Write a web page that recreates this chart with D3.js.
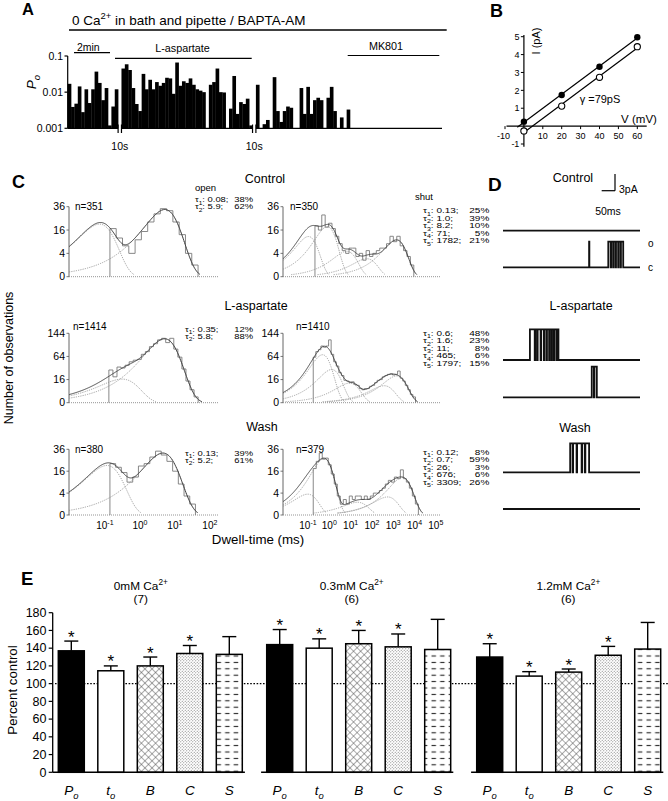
<!DOCTYPE html>
<html><head><meta charset="utf-8">
<script src="https://cdn.jsdelivr.net/npm/d3@7"></script>
<style>
body{margin:0;background:#fff;}
svg{font-family:"Liberation Sans",Arial,Helvetica,sans-serif;}
</style></head><body>
<svg id="fig" width="668" height="801"></svg>
<script>
// ================= DATA =================
// Panel A : open probability per bin (three recording segments)
const poSeg1 = [0.017,0.0039,0.0048,0.0144,0.0028,0.012,0.005,0.012,0.037,0.018,0.006,0.013,0.0012,0.004,0.012];
const poSeg2 = [0.045,0.059,0.041,0.013,0.0047,0.003,0.032,0.012,0.022,0.012,0.019,0.015,0.018,0.025,0.024,0.009,0.066,0.015,0.02,0.018,0.024,0.016,0.012,0.011,0.010,0.001,0.016,0.019,0.045,0.01,0.0098,0,0.0035,0.028,0.0025,0.0053,0.0047,0.0066,0.0012];
const poSeg3 = [0.016,0,0.0013,0.0017,0,0.026,0.003,0.0015,0.003,0.004,0.0037,0,0,0.013,0.0025,0.014,0.0025,0.006,0.007,0.006,0,0.007,0.014,0.003,0,0.002,0,0.0033];
const poTicks = [0.001,0.01,0.1];
const poTickLabels = ["0.001","0.01","0.1"];

// Panel B : I-V relation
const ivVoltage = [0,20,40,60];
const ivFilled = [0.25,1.74,3.32,4.97];
const ivOpen = [-0.27,1.12,2.73,4.44];
const ivXTicks = [-10,10,20,30,40,50,60];
const ivYTicks = [-1,1,2,3,4,5];

// Panel C : dwell-time histograms
const rowNames = ["Control","L-aspartate","Wash"];
const openN = [351,1414,380];
const shutN = [350,1410,379];
const openTaus = [["0.08","5.9"],["0.35","5.8"],["0.13","5.2"]];
const openAreas = [[38,62],[12,88],[39,61]];
const shutTaus = [["0.13","1.0","8.2","71","1782"],["0.6","1.6","11","465","1797"],["0.12","0.7","26","676","3309"]];
const shutAreas = [[25,39,10,5,21],[48,23,8,6,15],[8,59,3,6,26]];
const histMax = [36,144,36];
const histTicks = [[0,4,16,36],[0,16,64,144],[0,4,16,36]];
const openBinStart = [-0.8,-0.83,-0.8];      // log10(ms)
const openBinWidth = [0.18,0.116,0.163];     // decades
const openCounts = [
  [17,11,7,4,10,15,22,29,34,32,22,13,4,1],
  [32,20,38,36,42,50,54,56,70,78,94,104,118,124,108,124,86,62,34,14,5,1],
  [22,19,15,9,12,20,22,28,34,30,24,16,8,3,1]
];
const shutBinStart = [-0.58,-0.66,-0.66];
const shutBinWidth = [0.16,0.12,0.141];
const shutCounts = [
  [19,16,28,18,21,17,12,8,5,4,6,6,3,4,2,5,3,4,5,6,6,8,12,9,12,7,5,3,1],
  [62,78,84,96,92,96,118,70,50,40,27,22,15,14,12,13,10,9,6,5,6,6,8,9,12,15,16,20,22,24,25,23,24,30,18,14,9,5,2,1],
  [18,24,32,26,27,21,14,8,3,1,2,1,3,2,3,3,2,3,2,3,4,4,5,6,8,10,9,12,11,17,11,9,6,3,1]
];
const openXTicks = [-1,0,1,2];
const shutXTicks = [-1,0,1,2,3,4,5];

// Panel D : single-channel traces (open intervals, ms)
const traceConds = ["Control","L-aspartate","Wash"];
const traceAmp = [4.6,5.5,5.2]; // pA
const traceOpenings = [
  [[], [[323,324],[395,404],[405.5,413],[414.5,422],[424,432],[433.5,441],[442.5,451]]],
  [[[101,119],[121,128],[130,141],[143,153],[155,163],[165,173],[175,182],[184,191],[193,201],[203,208]], [[333,341],[343,352]]],
  [[[252,261],[263,276],[278,295],[297,307],[309,323]], []]
];

// Panel E : percent of control
const eGroups = ["0mM Ca","0.3mM Ca","1.2mM Ca"];
const eGroupN = ["(7)","(6)","(6)"];
const eParams = ["Po","to","B","C","S"];
const eMeans = [[137,114.5,120,134,133],[144,140,145,141.5,138.5],[130,108.5,113,132,139]];
const eSems = [[11,5.5,10,9,20],[17,10.5,15,14.5,34],[15,5,3.5,10,30]];
const eSig = [[1,1,1,1,0],[1,1,1,1,0],[1,1,1,1,0]];
const eYTicks = [0,20,40,60,80,100,120,140,160,180];

// ================= DRAWING =================
const svg = d3.select("#fig");

function rich(parent, x, y, parts, fs, attrs) {
  const t = parent.append("text").attr("x", x).attr("y", y).attr("font-size", fs);
  if (attrs) for (const k in attrs) t.attr(k, attrs[k]);
  let shift = 0;
  parts.forEach(p => {
    const [str, kind] = Array.isArray(p) ? p : [p, null];
    const target = kind === 'sup' ? -0.38 * fs : kind === 'sub' ? 0.3 * fs : 0;
    const ts = t.append("tspan").text(str).attr("dy", target - shift);
    if (kind) ts.attr("font-size", 0.7 * fs);
    shift = target;
  });
  return t;
}
function label(parent, x, y, str, fs, attrs) {
  const t = parent.append("text").attr("x", x).attr("y", y).attr("font-size", fs).text(str);
  if (attrs) for (const k in attrs) t.attr(k, attrs[k]);
  return t;
}
function hline(g, x1, x2, y, sw, color) {
  return g.append("line").attr("x1", x1).attr("x2", x2).attr("y1", y).attr("y2", y)
    .attr("stroke", color || "#000").attr("stroke-width", sw || 1);
}
function vline(g, x, y1, y2, sw, color) {
  return g.append("line").attr("x1", x).attr("x2", x).attr("y1", y1).attr("y2", y2)
    .attr("stroke", color || "#000").attr("stroke-width", sw || 1);
}

// panel letters
[["A",22,15,16.5],["B",490,17,18],["C",12,188,18],["D",488,191,19],["E",21,585,18.5]].forEach(l =>
  label(svg, l[1], l[2], l[0], l[3], {"font-weight": "bold"}));

// ---------- Panel A ----------
(function () {
  const g = svg.append("g");
  rich(g, 72, 24.5, ["0 Ca", ["2+", "sup"], " in bath and pipette / BAPTA-AM"], 13.5);
  hline(g, 69, 446.7, 30, 1.3);
  const yA = d3.scaleLog().domain([0.001, 0.1]).range([128.3, 56]);
  const slots = [];
  poSeg1.forEach(v => slots.push({v}));
  slots.push({gap: true});
  poSeg2.forEach(v => slots.push({v}));
  slots.push({gap: true});
  poSeg3.forEach(v => slots.push({v}));
  slots.forEach((s, i) => s.i = i);
  const xA = d3.scaleLinear().domain([0, slots.length]).range([67.7, 350]);
  const bw = xA(1) - xA(0);
  g.selectAll("rect.po").data(slots.filter(s => !s.gap && s.v > 0.001)).join("rect")
    .attr("class", "po")
    .attr("x", d => xA(d.i)).attr("width", bw + 0.3)
    .attr("y", d => yA(d.v)).attr("height", d => yA(0.001) - yA(d.v)).attr("fill", "#000");
  vline(g, 67.7, yA(0.1), yA(0.001), 1.2);
  poTicks.forEach((t, i) => {
    hline(g, 64.5, 67.7, yA(t), 1.2);
    label(g, 63, yA(t) + 3.8, poTickLabels[i], 10.5, {"text-anchor": "end"});
  });
  const gaps = slots.filter(s => s.gap).map(s => s.i);
  const segs = [[67.7, xA(gaps[0])], [xA(gaps[0] + 1), xA(gaps[1])], [xA(gaps[1] + 1), 442]];
  segs.forEach(s => hline(g, s[0], s[1], yA(0.001), 1.3));
  gaps.forEach(gi => {
    vline(g, xA(gi), 124.5, 133, 1.2);
    vline(g, xA(gi + 1), 124.5, 133, 1.2);
    label(g, (xA(gi) + xA(gi + 1)) / 2, 150, "10s", 10.5, {"text-anchor": "middle"});
  });
  rich(g, 0, 0, ["P", ["o", "sub"]], 13.5, {"font-style": "italic", "text-anchor": "middle", transform: "translate(36,82) rotate(-90)"});
  label(g, 88.3, 51, "2min", 10.5, {"text-anchor": "middle"});
  hline(g, 74, 110, 52.7, 1.2);
  label(g, 182.5, 51.5, "L-aspartate", 10.8, {"text-anchor": "middle"});
  hline(g, 115, 251.7, 58.3, 1.2);
  label(g, 386, 49.5, "MK801", 10.8, {"text-anchor": "middle"});
  hline(g, 347.7, 439.3, 55.5, 1.2);
})();

// ---------- Panel B ----------
(function () {
  const g = svg.append("g");
  const x = d3.scaleLinear().domain([-10, 60]).range([505, 637.3]);
  const y = d3.scaleLinear().domain([-1, 5]).range([144, 36.7]);
  hline(g, 506.5, 646.7, y(0), 1.2);
  vline(g, x(0), 35, 146.7, 1.2);
  ivXTicks.forEach(t => {
    vline(g, x(t), y(0), y(0) + 3, 1);
    label(g, x(t) + (t < 0 ? -1.5 : 0), 138.5, String(t), 9, {"text-anchor": "middle"});
  });
  ivYTicks.forEach(t => {
    hline(g, x(0) - 3, x(0), y(t), 1);
    label(g, x(0) - 4.5, y(t) + 3.2, String(t), 9, {"text-anchor": "end"});
  });
  function fit(vs, is) {
    const mx = d3.mean(vs), my = d3.mean(is);
    const b = d3.sum(vs, (v, i) => (v - mx) * (is[i] - my)) / d3.sum(vs, v => (v - mx) ** 2);
    return [my - b * mx, b];
  }
  const fF = fit(ivVoltage, ivFilled), fO = fit(ivVoltage, ivOpen);
  const vStart = [-3.5, 0];
  [[fF, vStart[0]], [fO, vStart[1]]].forEach(([f, v0]) => {
    g.append("line").attr("x1", x(v0)).attr("y1", y(f[0] + f[1] * v0))
      .attr("x2", x(60)).attr("y2", y(f[0] + f[1] * 60)).attr("stroke", "#000").attr("stroke-width", 1.2);
  });
  g.selectAll("circle.f").data(ivVoltage).join("circle").attr("class", "f")
    .attr("cx", v => x(v)).attr("cy", (v, i) => y(ivFilled[i])).attr("r", 3.2).attr("fill", "#000");
  g.selectAll("circle.o").data(ivVoltage).join("circle").attr("class", "o")
    .attr("cx", v => x(v)).attr("cy", (v, i) => y(ivOpen[i])).attr("r", 3.1)
    .attr("fill", "#fff").attr("stroke", "#000").attr("stroke-width", 1.1);
  label(g, 0, 0, "I (pA)", 11, {"text-anchor": "middle", transform: "translate(540,41) rotate(-90)"});
  label(g, 639, 123, "V (mV)", 11.5, {"text-anchor": "middle"});
  label(g, 600, 103, "\u03b3 =79pS", 11, {"text-anchor": "middle"});
})();

// ---------- Panel C ----------
(function () {
  const g = svg.append("g");
  const rowY0 = [276.7, 402.7, 515];
  const rowYTop = [206.7, 333.3, 449.3];
  const rowTitleX = [265, 256, 262];
  const rowTitleY = [183, 309.5, 430.7];
  const xOpen = d3.scaleLog().domain([10 ** -1.97, 10 ** 2.29]).range([69, 218]);
  const xShut = d3.scaleLog().domain([10 ** -2.08, 10 ** 5.29]).range([283, 440]);
  const gfun = x => x * Math.exp(-x);

  function drawHist(xs, ys, max, ticks, binStart, binW, counts, N, taus, areas) {
    const y0 = ys.range()[0];
    const [xa, xb] = xs.range();
    vline(g, xa, ys(max), y0, 0.9, "#555");
    hline(g, xa, xb, y0, 0.9, "#888").attr("stroke-dasharray", "1,1");
    ticks.forEach(t => {
      hline(g, xa - 2.5, xa, ys(t), 0.8, "#555");
      label(g, xa - 4, ys(t) + 3.7, String(t), 10.5, {"text-anchor": "end"});
    });
    let d = `M${xs(10 ** binStart)},${y0}`;
    counts.forEach((c, k) => {
      const xL = xs(10 ** (binStart + k * binW)), xR = xs(10 ** (binStart + (k + 1) * binW));
      d += `L${xL},${ys(c)}L${xR},${ys(c)}`;
    });
    d += `L${xs(10 ** (binStart + counts.length * binW))},${y0}`;
    g.append("path").attr("d", d).attr("fill", "none").attr("stroke", "#7a7a7a").attr("stroke-width", 0.9);
    const tv = taus.map(Number), av = areas.map(a => a / 100);
    const lo = Math.log10(xs.domain()[0]), hi = Math.log10(xs.domain()[1]);
    const logs = d3.range(lo, hi, 0.02);
    const sc = N * Math.LN10 * binW;
    const comp = (i, L) => sc * av[i] * gfun(10 ** L / tv[i]);
    const ln = d3.line().x(p => xs(10 ** p[0])).y(p => ys(Math.min(p[1], max)));
    tv.forEach((_, i) => {
      const pts = logs.map(L => [L, comp(i, L)]).filter(p => p[1] >= 0.03);
      g.append("path").attr("d", ln(pts)).attr("fill", "none").attr("stroke", "#8c8c8c")
        .attr("stroke-width", 0.8).attr("stroke-dasharray", "1.2,1.1");
    });
    const sum = logs.map(L => [L, d3.sum(tv, (_, i) => comp(i, L))]).filter(p => p[1] >= 0.03);
    g.append("path").attr("d", ln(sum)).attr("fill", "none").attr("stroke", "#3a3a3a").attr("stroke-width", 0.9);
  }

  // each block of time constants: one text element per column, condensed vertically
  function tauBlock(x0, x1, yFirst, spacing, fs, sy, taus, areas) {
    const gg = g.append("g").attr("transform", `translate(0,${yFirst}) scale(1,${sy})`);
    const tl = gg.append("text").attr("font-size", fs);
    const tr = gg.append("text").attr("font-size", fs).attr("text-anchor", "end");
    taus.forEach((t, i) => {
      const yy = i * spacing / sy;
      tl.append("tspan").attr("x", x0).attr("y", yy).text("\u03c4");
      tl.append("tspan").attr("dy", 3).attr("font-size", fs * 0.7).text(String(i + 1));
      tl.append("tspan").attr("dy", -3).text(": " + t + ";");
      tr.append("tspan").attr("x", x1).attr("y", yy).text(areas[i] + "%");
    });
  }

  const openTextX = [195, 185, 185];
  const openTextY = [202.4, 332.2, 456.2];
  const shutTextY = [213.2, 336, 455];
  const nLeftX = [75, 73, 75], nRightX = [290, 296, 296], nY = [210, 330, 452.5];

  rowNames.forEach((name, r) => {
    label(g, rowTitleX[r], rowTitleY[r], name, 12.5, {"text-anchor": "middle"});
    const ys = d3.scaleSqrt().domain([0, histMax[r]]).range([rowY0[r], rowYTop[r]]);
    drawHist(xOpen, ys, histMax[r], histTicks[r], openBinStart[r], openBinWidth[r], openCounts[r], openN[r], openTaus[r], openAreas[r]);
    drawHist(xShut, ys, histMax[r], histTicks[r], shutBinStart[r], shutBinWidth[r], shutCounts[r], shutN[r], shutTaus[r], shutAreas[r]);
    label(g, nLeftX[r], nY[r], "n=" + openN[r], 10);
    label(g, nRightX[r], nY[r], "n=" + shutN[r], 10);
    tauBlock(openTextX[r], 253, openTextY[r], 7.0, 9.4, 0.74, openTaus[r], openAreas[r]);
    tauBlock(423, 489.3, shutTextY[r], 7.5, 10, 0.8, shutTaus[r], shutAreas[r]);
    if (r === 2) {
      openXTicks.forEach(e => rich(g, xOpen(10 ** e) + 2, 529, ["10", [String(e), "sup"]], 10, {"text-anchor": "middle"}));
      shutXTicks.forEach(e => rich(g, xShut(10 ** e) + 2, 529, ["10", [String(e), "sup"]], 10, {"text-anchor": "middle"}));
    }
  });
  label(g, 195, 190.5, "open", 9.5);
  label(g, 415, 200, "shut", 9.5);
  label(g, 0, 0, "Number of observations", 12.5, {"text-anchor": "middle", transform: "translate(13,358) rotate(-90)"});
  label(g, 258, 544, "Dwell-time (ms)", 13.3, {"text-anchor": "middle"});
})();

// ---------- Panel D ----------
(function () {
  const g = svg.append("g");
  const tx = d3.scaleLinear().domain([0, 514]).range([503, 640]);
  const pxPerPA = 16.7 / 3;
  const titleXY = [[573, 181.7], [581, 309.5], [575, 432]];
  const traceBase = [[230.7, 267.3], [360, 397.3], [472.3, 509]];
  traceConds.forEach((name, c) => {
    label(g, titleXY[c][0], titleXY[c][1], name, 12.5, {"text-anchor": "middle"});
    traceOpenings[c].forEach((ops, k) => {
      const ty = d3.scaleLinear().domain([0, traceAmp[c]]).range([traceBase[c][k], traceBase[c][k] - traceAmp[c] * pxPerPA]);
      let d = `M${tx(0)},${ty(0)}`;
      ops.forEach(([a, b]) => {
        d += `L${tx(a)},${ty(0)}L${tx(a)},${ty(traceAmp[c])}L${tx(b)},${ty(traceAmp[c])}L${tx(b)},${ty(0)}`;
      });
      d += `L${tx(514)},${ty(0)}`;
      g.append("path").attr("d", d).attr("fill", "none").attr("stroke", "#111").attr("stroke-width", 1.8)
        .attr("stroke-linejoin", "miter");
      if (c === 0 && k === 1) {
        label(g, 648, ty(traceAmp[c]) + 5, "o", 10);
        label(g, 648, ty(0) + 3.5, "c", 10);
      }
    });
  });
  const sbX = 615, sbY = 190.7;
  vline(g, sbX, sbY - 3 * pxPerPA, sbY, 1.2);
  hline(g, sbX - (tx(50) - tx(0)), sbX, sbY, 1.2);
  label(g, 619, 193, "3pA", 10.5);
  label(g, 608, 215, "50ms", 10.5, {"text-anchor": "middle"});
})();

// ---------- Panel E ----------
(function () {
  const g = svg.append("g");
  const defs = svg.append("defs");
  const ph = defs.append("pattern").attr("id", "hatch").attr("width", 5).attr("height", 5)
    .attr("patternUnits", "userSpaceOnUse").attr("patternTransform", "rotate(45)");
  ph.append("rect").attr("width", 5).attr("height", 5).attr("fill", "#fff");
  ph.append("line").attr("x1", 0).attr("y1", 0).attr("x2", 0).attr("y2", 5).attr("stroke", "#444").attr("stroke-width", 0.9);
  ph.append("line").attr("x1", 0).attr("y1", 0).attr("x2", 5).attr("y2", 0).attr("stroke", "#444").attr("stroke-width", 0.9);
  const pd = defs.append("pattern").attr("id", "dots").attr("width", 3).attr("height", 3).attr("patternUnits", "userSpaceOnUse");
  pd.append("rect").attr("width", 3).attr("height", 3).attr("fill", "#fff");
  pd.append("circle").attr("cx", 0.75).attr("cy", 0.75).attr("r", 0.55).attr("fill", "#777");
  pd.append("circle").attr("cx", 2.25).attr("cy", 2.25).attr("r", 0.55).attr("fill", "#777");
  const pdash = defs.append("pattern").attr("id", "dashes").attr("width", 8.6).attr("height", 6.4).attr("patternUnits", "userSpaceOnUse");
  pdash.append("rect").attr("width", 8.6).attr("height", 6.4).attr("fill", "#fff");
  pdash.append("line").attr("x1", 1.5).attr("x2", 6).attr("y1", 3.2).attr("y2", 3.2).attr("stroke", "#222").attr("stroke-width", 1.1);
  const fills = ["#000", "#fff", "url(#hatch)", "url(#dots)", "url(#dashes)"];

  const y = d3.scaleLinear().domain([0, 180]).range([772.3, 612.7]);
  const groupX = [52.7, 261.1, 471.1], groupW = 195.2;
  const titleX = [140.8, 351.7, 568.3];
  vline(g, 52.7, y(180), y(0), 1.3);
  eYTicks.forEach(t => {
    hline(g, 48.7, 52.7, y(t), 1.2);
    label(g, 46.5, y(t) + 4.3, String(t), 12.5, {"text-anchor": "end"});
  });
  label(g, 0, 0, "Percent control", 13.3, {"text-anchor": "middle", transform: "translate(17,690) rotate(-90)"});
  hline(g, 55, 668, y(100), 1.3).attr("stroke-dasharray", "1.6,1.6");

  eGroups.forEach((name, gi) => {
    const xb = d3.scaleBand().domain(eParams).range([groupX[gi], groupX[gi] + groupW]).paddingInner(0.342).paddingOuter(0.142);
    rich(g, titleX[gi], 589.5, [name, ["2+", "sup"]], 11.8, {"text-anchor": "middle"});
    label(g, titleX[gi], 602.5, eGroupN[gi], 11.8, {"text-anchor": "middle"});
    eParams.forEach((p, pi) => {
      const m = eMeans[gi][pi], s = eSems[gi][pi];
      const cx = xb(p) + xb.bandwidth() / 2;
      vline(g, cx, y(m), y(m + s), 1.4);
      hline(g, cx - 7, cx + 7, y(m + s), 1.4);
      g.append("rect").attr("x", xb(p)).attr("y", y(m)).attr("width", xb.bandwidth()).attr("height", y(0) - y(m))
        .attr("fill", fills[pi]).attr("stroke", "#000").attr("stroke-width", 1.5);
      if (eSig[gi][pi]) label(g, cx, y(m + s) + 1.5, "*", 17, {"text-anchor": "middle"});
      const parts = p.length === 2 ? [p[0], [p[1], "sub"]] : [p];
      rich(g, cx, 795, parts, 13.5, {"text-anchor": "middle", "font-style": "italic"});
    });
    hline(g, groupX[gi], groupX[gi] + groupW - 3, y(0), 1.4);
  });
})();
</script>
</body></html>
